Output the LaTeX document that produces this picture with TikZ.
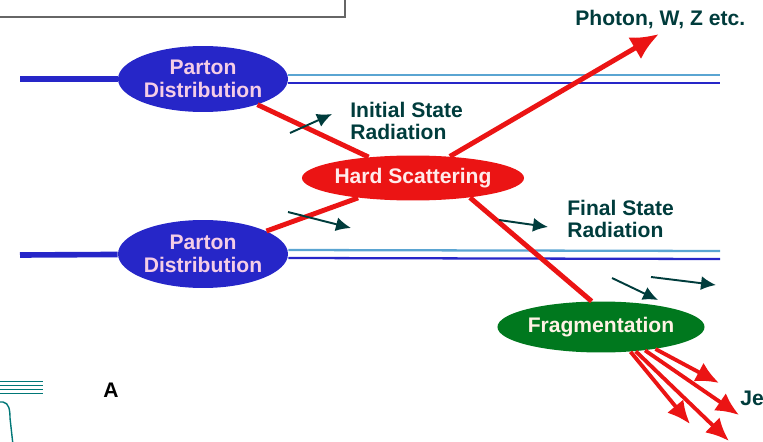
\documentclass[tikz,border=0pt]{standalone}
\usepackage{fontspec}
\setmainfont{Liberation Sans}
\usetikzlibrary{arrows.meta, shapes.geometric}

\definecolor{partonblue}{RGB}{38,38,200}
\definecolor{beamlight}{RGB}{90,165,210}
\definecolor{hardred}{RGB}{235,20,20}
\definecolor{fraggreen}{RGB}{0,120,30}
\definecolor{tagteal}{RGB}{0,60,60}
\definecolor{blobtext}{RGB}{245,205,230}

\begin{document}
\begin{tikzpicture}[x=0.02cm, y=-0.02cm,
    blob/.style={ellipse, inner sep=0pt, font=\bfseries\fontsize{12}{13}\selectfont, align=center},
    tagtext/.style={inner sep=0pt, anchor=west, align=left, text=tagteal, font=\bfseries\fontsize{12}{13}\selectfont},
    beam/.style={partonblue, line width=3.2pt},
    redline/.style={hardred, line width=2.8pt},
    radarrow/.style={tagteal, line width=1.1pt, -{Latex[length=3mm, width=2.8mm]}},
    jetarrow/.style={hardred, line width=2.2pt, -{Latex[length=4.6mm, width=4.2mm]}}]
                \clip (0, 0) rectangle (763, 442);
                \draw[gray!80!black, line width=0.6pt] (-5, -5) rectangle (345, 17);

                \node[blob, fill=partonblue, text=blobtext, minimum width=3.4cm, minimum height=1.32cm] (pdu) at (203, 79) {Parton\\Distribution};
                \node[blob, fill=partonblue, text=blobtext, minimum width=3.4cm, minimum height=1.36cm] (pdl) at (203, 254) {Parton\\Distribution};
                \node[blob, fill=hardred, text=red!8, minimum width=4.4cm, minimum height=0.9cm] (hard) at (413, 178) {Hard Scattering};
                \node[blob, fill=fraggreen, text=orange!10, minimum width=4.06cm, minimum height=1.02cm] (frag) at (601, 327) {Fragmentation};

                \node[tagtext] (isr) at (350, 121) {Initial State\\Radiation};
                \node[tagtext] (fsr) at (567, 219) {Final State\\Radiation};
                \node[tagtext] (boson) at (575, 19) {Photon, W, Z etc.};
                \node[tagtext] (jets) at (740, 398) {Je};
                \node[inner sep=0pt, font=\bfseries\fontsize{12}{13}\selectfont] (panel) at (111, 390) {A};

                \coordinate (beamlu) at (20, 79);
                \coordinate (beamll) at (20, 255);
                \coordinate (beamru) at (720, 79);
                \coordinate (beamrl) at (720, 255);
                \coordinate (bosontip) at (659, 34);
                \coordinate (jet1) at (690, 424);
                \coordinate (jet2) at (729, 441);
                \coordinate (jet3) at (739, 415);
                \coordinate (jet4) at (719, 383);

                % incoming beams
                \draw[beam] (beamlu) -- (pdu);
                \draw[beam] (beamll) -- (pdl);
                \draw[beamlight, line width=1.3pt] ([yshift=0.08cm]pdu.east) -- ([yshift=0.08cm]beamru);
                \draw[partonblue, line width=1.3pt] ([yshift=-0.08cm]pdu.east) -- ([yshift=-0.08cm]beamru);
                \draw[beamlight, line width=1.3pt] ([yshift=0.08cm]pdl.east) -- ([yshift=0.08cm]beamrl);
                \draw[partonblue, line width=1.3pt] ([yshift=-0.08cm]pdl.east) -- ([yshift=-0.08cm]beamrl);

                % partons into the hard scattering and out of it
                \draw[redline] (pdu) -- (hard);
                \draw[redline] (pdl) -- (hard);
                \draw[redline, -{Latex[length=5.6mm, width=5mm]}] (hard) -- (bosontip);
                \draw[redline] (hard.-19) -- (frag.110);

                \draw[jetarrow] (frag.-40) -- (jet1);
                \draw[jetarrow] (frag.-35) -- (jet2);
                \draw[jetarrow] (frag.-28) -- (jet3);
                \draw[jetarrow] (frag.-22) -- (jet4);

                % radiation
                \coordinate (isr1) at (290, 133);
                \coordinate (isr2) at (332, 114);
                \coordinate (isr3) at (288, 212);
                \coordinate (isr4) at (351, 228);
                \coordinate (fsr1) at (499, 220);
                \coordinate (fsr2) at (548, 227);
                \coordinate (fsr3) at (612, 278);
                \coordinate (fsr4) at (658, 300);
                \coordinate (fsr5) at (651, 277);
                \coordinate (fsr6) at (716, 285);
                \draw[radarrow] (isr1) -- (isr2);
                \draw[radarrow] (isr3) -- (isr4);
                \draw[radarrow] (fsr1) -- (fsr2);
                \draw[radarrow] (fsr3) -- (fsr4);
                \draw[radarrow] (fsr5) -- (fsr6);

                % corner of the next panel
                \foreach \y in {381, 385, 389, 393}
                    \draw[tagteal!70!cyan, line width=0.5pt] (0, \y) -- (43, \y);
                \draw[tagteal!70!cyan, line width=0.8pt] (-2, 402) -- (3, 402) .. controls (9, 403) and (10, 410) .. (10, 418) -- (13, 445);
            \end{tikzpicture}
\end{document}
